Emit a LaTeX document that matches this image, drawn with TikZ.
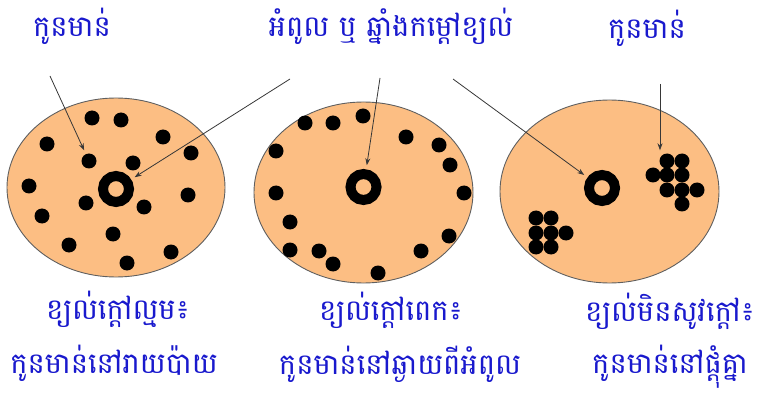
\documentclass[tikz,border=0pt]{standalone}
\usepackage{fontspec}
\newfontfamily\khmerfont[Script=Khmer]{Battambang}
\definecolor{chickblue}{RGB}{25,25,205}
\definecolor{penorange}{RGB}{252,190,131}
\definecolor{rimgray}{RGB}{95,95,95}
\definecolor{pointgray}{RGB}{55,55,55}
\usetikzlibrary{arrows.meta,positioning,calc,shapes.geometric}

\begin{document}
\begin{tikzpicture}[x=1pt,y=-1pt,
  brooder/.style={ellipse,draw=rimgray,fill=penorange,line width=0.9pt,inner sep=0pt},
  chick/.style={circle,fill=black,minimum size=15pt,inner sep=0pt},
  lamp/.style={circle,draw=black,line width=10pt,minimum size=26pt,inner sep=0pt},
  caption/.style={font=\khmerfont\fontsize{29}{34}\selectfont,text=chickblue,inner sep=0pt,anchor=base},
  pointer/.style={draw=pointgray,line width=0.8pt,-{Stealth[length=7pt,width=5pt]},shorten >=4pt}
]
  \useasboundingbox (0,0) rectangle (760,398);
  % Brooder pens
  \node[brooder,minimum width=218pt,minimum height=179pt] (pen1) at (116,187.5) {};
  \node[brooder,minimum width=219pt,minimum height=181pt] (pen2) at (363.5,192.5) {};
  \node[brooder,minimum width=219pt,minimum height=183pt] (pen3) at (609.5,191.5) {};
  % Heat lamps
  \node[lamp] (lamp1) at (116,189) {};
  \node[lamp] (lamp2) at (363.5,187) {};
  \node[lamp] (lamp3) at (602,188) {};
  % Pen 1: chicks spread out
  \foreach \p [count=\i] in {(92,118),(121,120),(47,144),(163,137),(191,153),(89,161),
      (133,163),(29,186),(188,195),(86,203),(144,207),(42,216),(113,234),(69,245),
      (171,252),(127,263)}
    \node[chick] (dl\i) at \p {};
  % Pen 2: chicks along the rim
  \foreach \p [count=\i] in {(305,123),(333,123),(363,116),(406,137),(439,145),(450,165),
      (276,151),(276,193),(464,193),(290,222),(449,236),(290,250),(319,251),(421,251),
      (333,264),(378,273)}
    \node[chick] (dm\i) at \p {};
  % Pen 3: chicks huddled
  \foreach \p [count=\i] in {(667,161),(682,161),(667,175),(682,175),(667,190),(682,190),
      (653,175),(697,190),(682,204)}
    \node[chick] (ur\i) at \p {};
  \foreach \p [count=\i] in {(536,218),(551,218),(536,233),(551,233),(536,247),(551,247),
      (566,233)}
    \node[chick] (ll\i) at \p {};
  % Top labels
  \node[caption] (chickL) at (72,37) {កូនមាន់};
  \node[caption] (heater) at (391,37) {អំពូល ឬ ឆ្នាំងកម្តៅខ្យល់};
  \node[caption] (chickR) at (647,39) {កូនមាន់};
  % Bottom labels
  \node[caption] (warmtitle) at (118,319) {ខ្យល់ក្តៅល្មម៖};
  \node[caption] (warmnote) at (114,373) {កូនមាន់នៅរាយប៉ាយ};
  \node[caption] (hottitle) at (391,320) {ខ្យល់ក្តៅពេក៖};
  \node[caption] (hotnote) at (400,374) {កូនមាន់នៅឆ្ងាយពីអំពូល};
  \node[caption] (coldtitle) at (670,321) {ខ្យល់មិនសូវក្តៅ៖};
  \node[caption] (coldnote) at (670,373) {កូនមាន់នៅផ្តុំគ្នា};
  % Pointers
  \coordinate (tailL) at (50,76);
  \coordinate (tailH1) at (290,79);
  \coordinate (tailH2) at (380,78);
  \coordinate (tailH3) at (453,79);
  \coordinate (tailR) at (660,84);
  \draw[pointer] (tailL) -- (dl6);
  \draw[pointer] (tailH1) -- (lamp1);
  \draw[pointer] (tailH2) -- (lamp2);
  \draw[pointer] (tailH3) -- (lamp3);
  \draw[pointer,shorten >=3pt] (tailR) -- (tailR |- ur1.north);
\end{tikzpicture}
\end{document}
